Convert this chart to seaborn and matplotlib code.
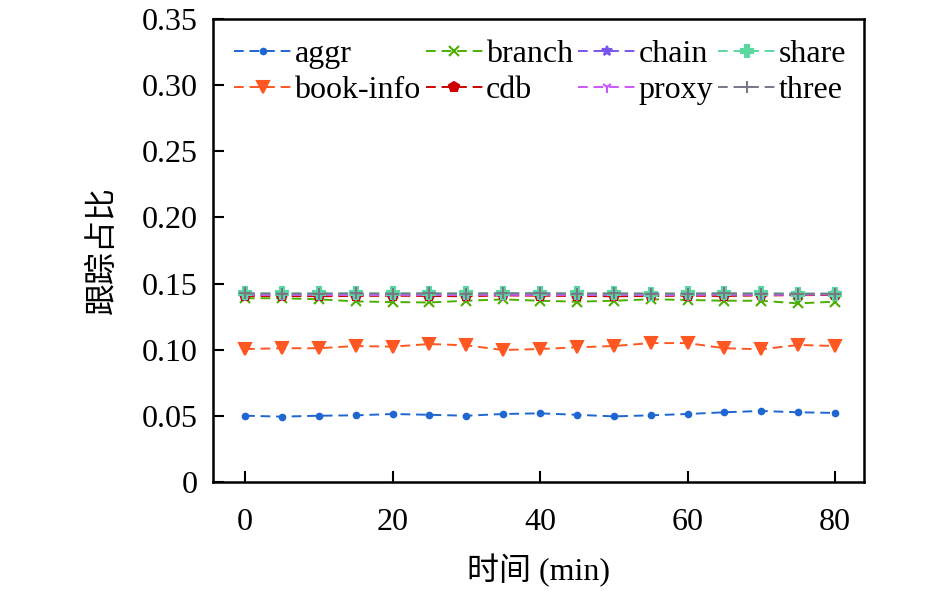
import numpy as np
import pandas as pd
import matplotlib
matplotlib.use('Agg')
import matplotlib.pyplot as plt
import seaborn as sns

# time axis (min)
minutes = [0, 5, 10, 15, 20, 25, 30, 35, 40, 45, 50, 55, 60, 65, 70, 75, 80]

# trace ratio per service
aggr = [0.0501, 0.0494, 0.0501, 0.0504, 0.0514, 0.0508, 0.0501, 0.0514, 0.0519,
        0.0508, 0.0496, 0.0504, 0.0514, 0.0527, 0.0537, 0.0527, 0.0522]
book_info = [0.1005, 0.1011, 0.1011, 0.1028, 0.1023, 0.1043, 0.1033, 0.0998, 0.1005,
             0.1018, 0.1028, 0.1050, 0.1050, 0.1011, 0.1003, 0.1036, 0.1028]
branch = [0.1389, 0.1389, 0.1381, 0.1365, 0.1360, 0.1357, 0.1370, 0.1380, 0.1370,
          0.1363, 0.1370, 0.1381, 0.1376, 0.1370, 0.1370, 0.1350, 0.1363]
cdb = [0.1406, 0.1406, 0.1404, 0.1406, 0.1408, 0.1406, 0.1404, 0.1410, 0.1408,
       0.1406, 0.1404, 0.1406, 0.1408, 0.1406, 0.1410, 0.1412, 0.1414]
chain = [0.1420, 0.1419, 0.1418, 0.1419, 0.1420, 0.1419, 0.1418, 0.1421, 0.1420,
         0.1419, 0.1418, 0.1419, 0.1420, 0.1419, 0.1418, 0.1419, 0.1420]
proxy = [0.1414, 0.1413, 0.1414, 0.1412, 0.1414, 0.1413, 0.1414, 0.1415, 0.1414,
         0.1413, 0.1414, 0.1413, 0.1414, 0.1415, 0.1414, 0.1416, 0.1418]
share = [0.1426, 0.1426, 0.1425, 0.1426, 0.1426, 0.1425, 0.1426, 0.1428, 0.1428,
         0.1426, 0.1425, 0.1424, 0.1425, 0.1426, 0.1425, 0.1424, 0.1424]
three = [0.1425, 0.1424, 0.1424, 0.1425, 0.1424, 0.1425, 0.1424, 0.1426, 0.1425,
         0.1424, 0.1425, 0.1424, 0.1424, 0.1425, 0.1424, 0.1423, 0.1423]

# legend fills column-wise, so this order gives aggr/branch/chain/share on row one
names = ['aggr', 'book-info', 'branch', 'cdb', 'chain', 'proxy', 'share', 'three']
series = [aggr, book_info, branch, cdb, chain, proxy, share, three]
colors = ['#1f66d1', '#ff5722', '#4caf00', '#cc0000', '#7a55ee', '#cc55ff', '#5ad8a0', '#777788']
markers = ['o', 'v', 'x', 'p', '*', '1', 'P', '+']
msizes = [4, 9, 7, 7, 7, 8, 9, 9]

sns.set_style('ticks')
plt.rcParams['font.family'] = ['Liberation Serif', 'Noto Sans CJK SC']
plt.rcParams['axes.unicode_minus'] = False
plt.rcParams['text.color'] = 'black'
plt.rcParams['axes.labelcolor'] = 'black'
plt.rcParams['xtick.color'] = 'black'
plt.rcParams['ytick.color'] = 'black'

fig = plt.figure(figsize=(9.45, 5.92), dpi=100)
ax = fig.add_axes([0.2254, 0.1858, 0.6889, 0.7822])

for name, vals, c, m, ms in zip(names, series, colors, markers, msizes):
    df = pd.DataFrame({'t': minutes, 'v': vals})
    sns.lineplot(data=df, x='t', y='v', ax=ax, color=c, marker=m, markersize=ms,
                 markeredgecolor=c, markeredgewidth=1.5, linestyle=(0, (5, 3)),
                 linewidth=1.4, label=name)

ax.set_xlim(-4.34, 83.93)
ax.set_ylim(0, 0.35)
ax.set_xticks([0, 20, 40, 60, 80])
ax.set_yticks([0, 0.05, 0.10, 0.15, 0.20, 0.25, 0.30, 0.35])
ax.set_yticklabels(['0', '0.05', '0.10', '0.15', '0.20', '0.25', '0.30', '0.35'])
ax.tick_params(direction='in', length=8, width=1.5, labelsize=23)
ax.tick_params(axis='x', pad=19)
ax.tick_params(axis='y', pad=11)
for s in ax.spines.values():
    s.set_linewidth(1.8)
    s.set_color('black')

ax.set_xlabel('时间 (min)', fontsize=23, labelpad=12)
ax.set_ylabel('跟踪占比', fontsize=23, labelpad=17)

ax.legend(ncol=4, loc='upper left', bbox_to_anchor=(0.0, 1.0), frameon=False,
          fontsize=23, handlelength=1.8, handletextpad=0.1, columnspacing=0.15,
          labelspacing=0.2, borderaxespad=0.25)

fig.savefig('out.png', dpi=100)
